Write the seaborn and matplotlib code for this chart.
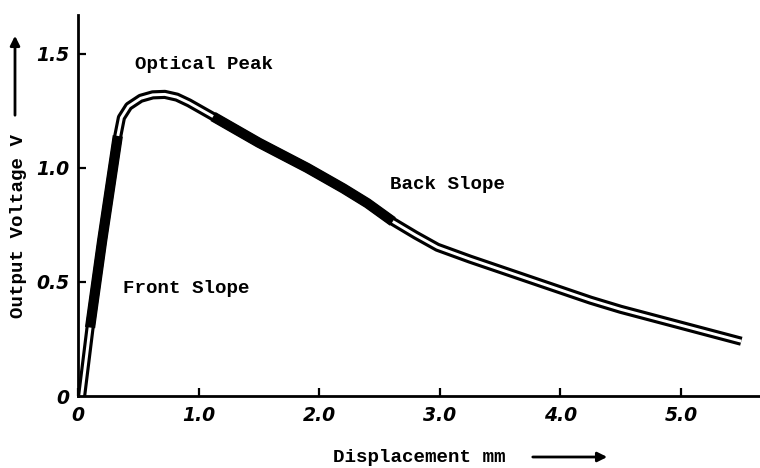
import matplotlib
matplotlib.use("Agg")
import matplotlib.pyplot as plt
import seaborn as sns
import pandas as pd

# Displacement (mm) and output voltage (V) along the measured trace
disp = [0.03, 0.10, 0.20, 0.33, 0.36, 0.42, 0.52, 0.62, 0.72, 0.82, 0.92, 1.02, 1.12,
        1.50, 1.90, 2.20, 2.40, 2.61, 2.80, 2.98, 3.25, 3.50, 3.75, 4.00, 4.25, 4.50,
        4.75, 5.00, 5.25, 5.50]
volt = [0.00, 0.30, 0.68, 1.14, 1.22, 1.27, 1.305, 1.32, 1.322, 1.31, 1.285, 1.255, 1.225,
        1.11, 1.00, 0.91, 0.845, 0.765, 0.705, 0.652, 0.60, 0.555, 0.51, 0.465, 0.42, 0.38,
        0.345, 0.31, 0.275, 0.24]
# Inking of the stretch that starts at each point: double (hollow) line or solid band
stroke = ["hollow", "solid", "solid",
          "hollow", "hollow", "hollow", "hollow", "hollow", "hollow", "hollow", "hollow", "hollow",
          "solid", "solid", "solid", "solid", "solid",
          "hollow", "hollow", "hollow", "hollow", "hollow", "hollow", "hollow", "hollow",
          "hollow", "hollow", "hollow", "hollow", "hollow"]

x_ticks = [0, 1, 2, 3, 4, 5]
x_tick_labels = ["0", "1.0", "2.0", "3.0", "4.0", "5.0"]
y_ticks = [0, 0.5, 1.0, 1.5]
y_tick_labels = ["0", "0.5", "1.0", "1.5"]

annotations = [("Optical Peak", 1.045, 1.452), ("Back Slope", 3.06, 0.925),
               ("Front Slope", 0.90, 0.47)]

sns.set_theme(style="ticks")
mono = ["Liberation Mono", "DejaVu Sans Mono"]
plt.rcParams["font.family"] = ["DejaVu Sans"]
plt.rcParams["text.color"] = "black"

df = pd.DataFrame({"disp": disp, "volt": volt, "stroke": stroke})

fig = plt.figure(figsize=(7.6, 4.68), dpi=100)
W, H = 760, 468
ax = fig.add_axes([78 / W, 72 / H, 682 / W, 381 / H])


def runs(kind):
    """Yield the point ranges covering consecutive stretches of one inking kind."""
    n = len(df)
    i = 0
    while i < n - 1:
        if df.loc[i, "stroke"] == kind:
            j = i
            while j < n - 1 and df.loc[j, "stroke"] == kind:
                j += 1
            yield df.loc[i:j]
            i = j
        else:
            i += 1


line_kw = dict(estimator=None, sort=False, solid_capstyle="butt",
               solid_joinstyle="round", clip_on=False)

# Broad black band for the whole trace
sns.lineplot(data=df, x="disp", y="volt", ax=ax, color="black", linewidth=6.6, **line_kw)

# Solid stretches are inked a little heavier
for seg in runs("solid"):
    sns.lineplot(data=seg, x="disp", y="volt", ax=ax, color="black", linewidth=7.4, **line_kw)

# White core along the hollow stretches turns the band into a double line
for seg in runs("hollow"):
    sns.lineplot(data=seg, x="disp", y="volt", ax=ax, color="white", linewidth=2.1, **line_kw)

ax.set_xlim(0, 5.655)
ax.set_ylim(0, 1.67)
ax.set_xticks(x_ticks)
ax.set_xticklabels(x_tick_labels, fontsize=13.5, fontweight="bold", fontstyle="italic")
ax.set_yticks(y_ticks)
ax.set_yticklabels(y_tick_labels, fontsize=13.5, fontweight="bold", fontstyle="italic")
ax.tick_params(axis="both", direction="in", length=6, width=1.6, color="black",
               labelcolor="black")
ax.tick_params(axis="x", pad=7)
ax.tick_params(axis="y", pad=6)
ax.set_xlabel("")
ax.set_ylabel("")
for side in ["top", "right"]:
    ax.spines[side].set_visible(False)
for side in ["left", "bottom"]:
    ax.spines[side].set_linewidth(2.0)
    ax.spines[side].set_color("black")

for text, x, y in annotations:
    ax.text(x, y, text, family=mono, fontsize=13.8, fontweight="bold",
            ha="center", va="center", color="black")

# Axis titles with direction arrows
fig.text(333 / W, 1 - 457 / H, "Displacement mm", family=mono, fontsize=13.8,
         fontweight="bold", ha="left", va="center")
ax.annotate("", xy=(610, H - 457), xycoords="figure pixels",
            xytext=(530, H - 457), textcoords="figure pixels",
            arrowprops=dict(arrowstyle="-|>", color="black", lw=2.0, mutation_scale=14))
fig.text(19 / W, 1 - 226 / H, "Output Voltage V", family=mono, fontsize=13.8,
         fontweight="bold", rotation=90, ha="center", va="center")
ax.annotate("", xy=(15, H - 33), xycoords="figure pixels",
            xytext=(15, H - 118), textcoords="figure pixels",
            arrowprops=dict(arrowstyle="-|>", color="black", lw=2.0, mutation_scale=14))

fig.savefig("out.png", dpi=100)
